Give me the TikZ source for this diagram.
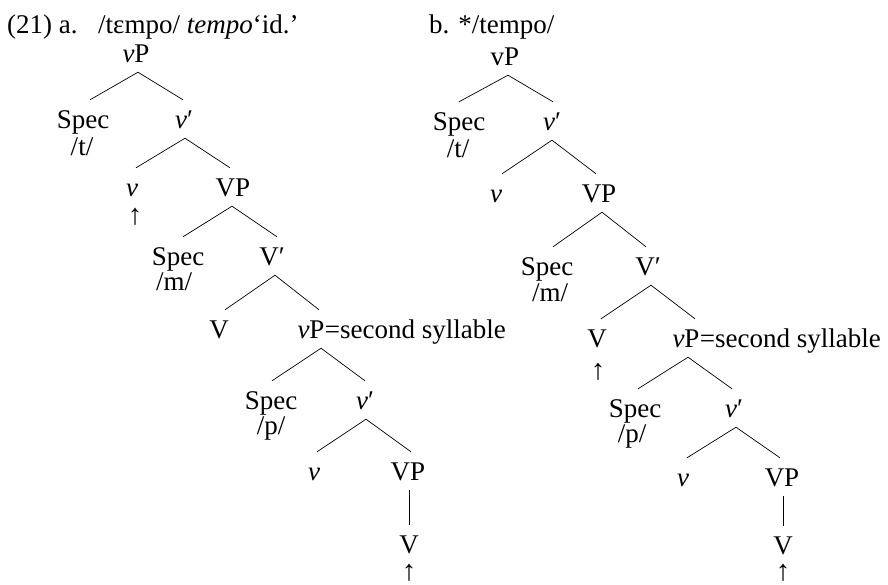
\documentclass[tikz,border=0pt]{standalone}
\usepackage{fontspec}
\setmainfont{Liberation Serif}
\begin{document}
\begin{tikzpicture}[x=1pt,y=-1pt,
  every node/.style={inner sep=0pt,font=\fontsize{27}{32}\selectfont},
  lab/.style={anchor=base,text height=28pt,text depth=10pt},
  plain/.style={anchor=base},
  arr/.style={anchor=base,font=\fontsize{29}{34}\selectfont,text height=15pt,text depth=0pt},
  hdr/.style={anchor=base west},
  br/.style={line width=0.7pt}]
\useasboundingbox (0,0) rectangle (888,584);
% ---------- tree a ----------
\node[hdr] (t21) at (7,33) {(21) a.};
\node[hdr] (ta) at (98,33) {/tεmpo/ \textit{tempo}‘id.’};
\node[lab] (A1) at (136,62) {\textit{v}P};
\node[lab] (A2) at (83,128) {Spec};
\node[plain] (A2s) at (82,155) {/t/};
\node[lab] (A3) at (184,128) {\textit{v}′};
\node[lab] (A4) at (132,196) {\textit{v}};
\node[arr] (A4a) at (135,224) {↑};
\node[lab] (A5) at (233,196) {VP};
\node[lab] (A6) at (178,265) {Spec};
\node[plain] (A6s) at (174,290) {/m/};
\node[lab] (A7) at (272,265) {V′};
\node[lab] (A8) at (219,338) {V};
\node[lab] (A9) at (311,338) {\textit{v}P};
\node[hdr] (A9e) at (A9.base east) {=second syllable};
\node[lab] (A10) at (271,409) {Spec};
\node[plain] (A10s) at (271,434) {/p/};
\node[lab] (A11) at (365,409) {\textit{v}′};
\node[lab] (A12) at (314,480) {\textit{v}};
\node[lab] (A13) at (408,480) {VP};
\node[lab] (A14) at (409,553) {V};
\node[arr] (A14a) at (409,580) {↑};
\draw[br] ([xshift=2pt]A1.south) -- ([xshift=7pt]A2.north);
\draw[br] ([xshift=2pt]A1.south) -- ([xshift=-1pt]A3.north);
\draw[br] ([xshift=1pt]A3.south) -- ([xshift=4pt]A4.north);
\draw[br] ([xshift=1pt]A3.south) -- ([xshift=-3pt]A5.north);
\draw[br] ([xshift=-1pt]A5.south) -- ([xshift=5pt]A6.north);
\draw[br] ([xshift=-1pt]A5.south) -- ([xshift=5pt]A7.north);
\draw[br] ([xshift=3pt]A7.south) -- ([xshift=6pt]A8.north);
\draw[br] ([xshift=3pt]A7.south) -- ([xshift=8pt]A9.north);
\draw[br] ([xshift=10pt]A9.south) -- ([xshift=1pt]A10.north);
\draw[br] ([xshift=10pt]A9.south) -- (A11.north);
\draw[br] ([xshift=1pt]A11.south) -- ([xshift=3pt]A12.north);
\draw[br] ([xshift=1pt]A11.south) -- ([xshift=3pt]A13.north);
\draw[br] ([xshift=1pt]A13.south) -- ([xshift=0pt]A14.north);
% ---------- tree b ----------
\node[hdr] (tb) at (429,33) {b. */tempo/};
\node[lab] (B1) at (505,65) {vP};
\node[lab] (B2) at (459,130) {Spec};
\node[plain] (B2s) at (458,157) {/t/};
\node[lab] (B3) at (552,130) {\textit{v}′};
\node[lab] (B4) at (496,202) {\textit{v}};
\node[lab] (B5) at (599,202) {VP};
\node[lab] (B6) at (547,275) {Spec};
\node[plain] (B6s) at (550,301) {/m/};
\node[lab] (B7) at (648,275) {V′};
\node[lab] (B8) at (597,347) {V};
\node[arr] (B8a) at (598,379) {↑};
\node[lab] (B9) at (686,347) {\textit{v}P};
\node[hdr] (B9e) at (B9.base east) {=second syllable};
\node[lab] (B10) at (635,417) {Spec};
\node[plain] (B10s) at (632,442) {/p/};
\node[lab] (B11) at (734,417) {\textit{v}′};
\node[lab] (B12) at (683,486) {\textit{v}};
\node[lab] (B13) at (782,486) {VP};
\node[lab] (B14) at (783,554) {V};
\node[arr] (B14a) at (783,580) {↑};
\draw[br] ([xshift=3pt]B1.south) -- (B2.north);
\draw[br] ([xshift=3pt]B1.south) -- ([xshift=1pt]B3.north);
\draw[br] (B3.south) -- ([xshift=6pt]B4.north);
\draw[br] (B3.south) -- ([xshift=-3pt]B5.north);
\draw[br] ([xshift=3pt]B5.south) -- ([xshift=6pt]B6.north);
\draw[br] ([xshift=3pt]B5.south) -- ([xshift=-2pt]B7.north);
\draw[br] ([xshift=3pt]B7.south) -- ([xshift=4pt]B8.north);
\draw[br] ([xshift=3pt]B7.south) -- ([xshift=9pt]B9.north);
\draw[br] ([xshift=2pt]B9.south) -- ([xshift=3pt]B10.north);
\draw[br] ([xshift=2pt]B9.south) -- ([xshift=-2pt]B11.north);
\draw[br] ([xshift=2pt]B11.south) -- ([xshift=4pt]B12.north);
\draw[br] ([xshift=2pt]B11.south) -- ([xshift=-2pt]B13.north);
\draw[br] ([xshift=1pt]B13.south) -- ([xshift=0pt]B14.north);
\end{tikzpicture}
\end{document}
